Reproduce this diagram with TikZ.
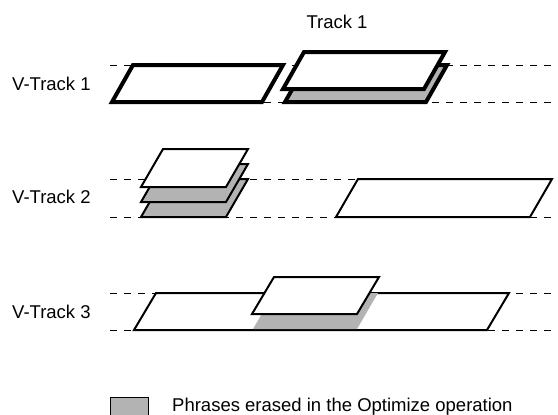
\documentclass[tikz,border=0pt]{standalone}
\usepackage{fontspec}
\setmainfont{Liberation Sans}
\definecolor{erased}{RGB}{179,179,179}
\newcommand\pgm[6]{\path[#1] (#2,#3) -- ++(#4,0) -- ++(#6,-#5) -- ++(-#4,0) -- cycle;}
\begin{document}
\begin{tikzpicture}[x=1bp,y=-1bp,
  guide/.style={line width=0.9bp, dash pattern=on 7bp off 7bp},
  thickbox/.style={draw, line width=4bp, fill=white},
  thinbox/.style={draw, line width=2bp, fill=white},
  lbl/.style={font=\fontsize{18.5bp}{22bp}\selectfont, inner sep=0pt}]
\useasboundingbox (0,0) rectangle (558,414);

% guide lines
\draw[guide] (110,65) -- (558,65);
\draw[guide] (110,102) -- (558,102);
\draw[guide] (110,179) -- (558,179);
\draw[guide] (110,217) -- (558,217);
\draw[guide] (110,293) -- (558,293);
\draw[guide] (110,330) -- (558,330);

% labels
\node[lbl, anchor=base west] (v1) at (12,90) {V-Track 1};
\node[lbl, anchor=base west] (v2) at (12,203) {V-Track 2};
\node[lbl, anchor=base west] (v3) at (12,318) {V-Track 3};
\node[lbl, anchor=base] (t1) at (337,28) {Track 1};

% V-Track 1
\pgm{thickbox}{112}{102}{150}{37}{21}
\pgm{thickbox,fill=erased}{285}{102}{141}{37}{21}
\pgm{thickbox}{283}{89}{141}{37}{21}

% V-Track 2
\pgm{thinbox,fill=erased}{141}{217}{85}{38}{22}
\pgm{thinbox,fill=erased}{141}{202}{85}{38}{22}
\pgm{thinbox}{141}{187}{85}{38}{22}
\pgm{thinbox}{336}{217}{194}{38}{22}

% V-Track 3
\pgm{thinbox}{134}{330}{353}{37}{22}
\fill[erased] (253,329) -- (357,329) -- (378,293) -- (274,293) -- cycle;
\pgm{thinbox}{252}{314}{105}{37}{22}

% legend
\draw[fill=erased, line width=0.8bp] (110,397) rectangle (148,420);
\node[lbl, anchor=base west] (leg) at (172,411) {Phrases erased in the Optimize operation};
\end{tikzpicture}
\end{document}
